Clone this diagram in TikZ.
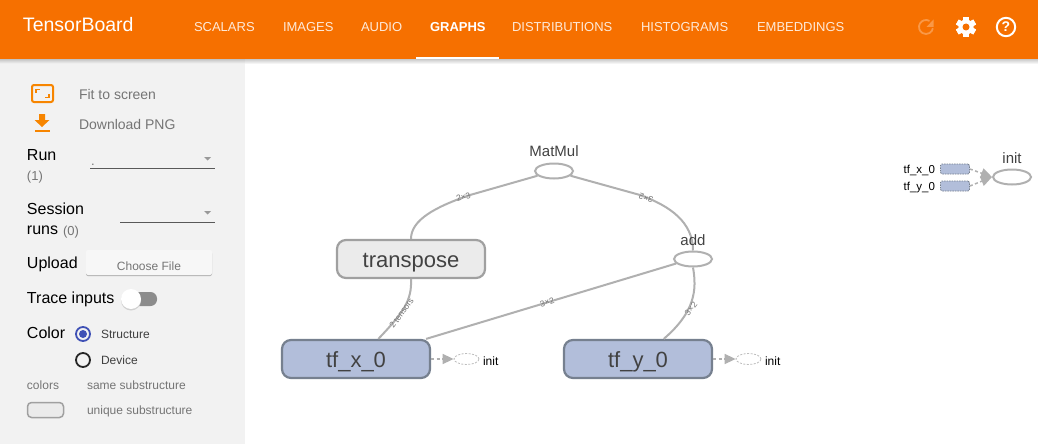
\documentclass[tikz,border=0pt]{standalone}
\usepackage{fontspec}
\setmainfont{Liberation Sans}
\usetikzlibrary{arrows.meta,shapes.geometric,calc}
\definecolor{tborange}{HTML}{F67000}
\definecolor{panel}{HTML}{F2F2F2}
\definecolor{edgegray}{HTML}{B0B0B0}
\definecolor{subtext}{HTML}{757575}
\definecolor{inkdark}{HTML}{424242}
\definecolor{boxblue}{HTML}{B2BEDA}
\definecolor{boxblueline}{HTML}{76808F}
\definecolor{boxgray}{HTML}{EBEBEB}
\definecolor{boxgrayline}{HTML}{A0A0A0}
\definecolor{radioblue}{HTML}{3F51B5}
\newcommand{\px}[1]{\fontsize{#1}{#1}\selectfont}
\tikzset{
  txt/.style={inner sep=0pt,outer sep=0pt,text height=10pt,text depth=0pt},
  tab/.style={txt,anchor=west,text=white!85!tborange,font=\px{13}},
  side/.style={txt,anchor=west,text=black,font=\px{16}},
  sidegray/.style={txt,anchor=west,text=subtext,font=\px{14}},
  small/.style={txt,anchor=west,text=subtext,font=\px{12}},
  opnode/.style={draw=edgegray,line width=2pt,fill=white,ellipse,minimum width=38pt,minimum height=15pt,inner sep=0pt},
  oplabel/.style={txt,anchor=center,text=inkdark,font=\px{15}},
  bigbox/.style={rounded corners=9pt,line width=2.2pt,minimum width=148pt,minimum height=38pt,inner sep=0pt,text=inkdark,font=\px{22},text height=17pt,text depth=0pt},
  bluebox/.style={bigbox,draw=boxblueline,fill=boxblue},
  graybox/.style={bigbox,draw=boxgrayline,fill=boxgray},
  edge/.style={draw=edgegray,line width=2pt},
  edgelabel/.style={inner sep=0pt,text=subtext,font=\px{8.5}},
  auxinit/.style={draw=boxgrayline!70,dash pattern=on 2pt off 1.5pt,line width=0.8pt,ellipse,minimum width=25pt,minimum height=11pt,inner sep=0pt},
  auxedge/.style={draw=edgegray,line width=1.5pt,dash pattern=on 3pt off 2.5pt,-{Triangle[length=11pt,width=10pt,fill=edgegray]}},
  initlabel/.style={txt,anchor=west,text=black,font=\px{12}},
  minibox/.style={draw=boxblueline,fill=boxblue,dash pattern=on 1.5pt off 1pt,line width=0.8pt,rounded corners=1.5pt,minimum width=29pt,minimum height=10pt,inner sep=0pt},
  minilabel/.style={txt,anchor=east,text=black,font=\px{11.5}},
  ddline/.style={draw=black!65,line width=0.9pt},
  ddarrow/.style={fill=black!40,draw=none},
  orangeicon/.style={draw=tborange!85!yellow,line width=2pt}
}
\begin{document}
\begin{tikzpicture}[x=1pt,y=-1pt]
\useasboundingbox (0,0) rectangle (1038,444);
\fill[white] (0,0) rectangle (1038,444);
% sidebar
\fill[panel] (0,59) rectangle (245,444);
% header shadow
\shade[top color=black!38,bottom color=black!0,opacity=0.55] (0,59) rectangle (1038,64);
% header
\fill[tborange] (0,0) rectangle (1038,59);
\fill[white] (416,57) rectangle (499,59);
\node[txt,anchor=west,text=white,font=\px{19.5}] (title) at (23,27) {TensorBoard};
\node[tab] (t1) at (194,27) {SCALARS};
\node[tab] (t2) at (283,27) {IMAGES};
\node[tab] (t3) at (361,27) {AUDIO};
\node[tab,text=white,font=\bfseries\px{13}] (t4) at (430,27) {GRAPHS};
\node[tab] (t5) at (512,27) {DISTRIBUTIONS};
\node[tab] (t6) at (641,27) {HISTOGRAMS};
\node[tab] (t7) at (757,27) {EMBEDDINGS};
% refresh icon
\begin{scope}[shift={(926,27)},x=1pt,y=1pt]
  \draw[tborange!72!white,line width=1.8pt] (60:7) arc[start angle=60,end angle=350,radius=7];
\end{scope}
\fill[tborange!72!white] (933.5,19.5) -- (933.5,27) -- (926.5,27) -- cycle;
% gear icon
\begin{scope}[shift={(966,27)}]
  \foreach \a in {0,60,...,300}
    \fill[white,rotate=\a] (-2.8,-10) rectangle (2.8,10);
  \fill[white] (0,0) circle[radius=7.6pt];
  \fill[tborange] (0,0) circle[radius=3.5pt];
\end{scope}
% help icon
\draw[white,line width=2pt] (1006,27) circle[radius=9.2pt];
\node[txt,anchor=center,text=white,font=\bfseries\px{14}] (help) at (1006,27) {?};
% sidebar tools
\draw[orangeicon,rounded corners=2pt] (32,85) rectangle (53,102);
\draw[tborange!85!yellow,line width=1.5pt] (36,93) -- (36,89.5) -- (40,89.5) (49,94) -- (49,97.5) -- (45,97.5);
\fill[tborange!85!yellow] (39,114) -- (45,114) -- (45,120) -- (49.5,120) -- (42,127) -- (34.5,120) -- (39,120) -- cycle;
\fill[tborange!85!yellow] (34.5,129.5) rectangle (49.5,131.5);
\node[sidegray] (fit) at (79,94) {Fit to screen};
\node[sidegray] (dl) at (79,124) {Download PNG};
\node[side] (run) at (27,155) {Run};
\node[sidegray,font=\px{13}] (runn) at (27,175) {(1)};
\node[txt,anchor=west,text=subtext,font=\px{13}] (dot) at (91,160) {.};
\draw[ddline] (90,168) -- (215,168);
\fill[ddarrow] (204,157) -- (211,157) -- (207.5,160.5) -- cycle;
\node[side] (sess) at (27,209) {Session};
\node[side] (runs) at (27,229) {runs};
\node[sidegray,font=\px{13}] (runsn) at (63,230) {(0)};
\draw[ddline] (120,222) -- (215,222);
\fill[ddarrow] (204,211) -- (211,211) -- (207.5,214.5) -- cycle;
\node[side] (upload) at (27,263) {Upload};
\fill[black!30,rounded corners=2pt] (86,251.5) rectangle (212,276);
\fill[panel!60!white,rounded corners=2pt] (86,250) rectangle (212,275);
\node[txt,anchor=center,text=subtext,font=\px{12}] (choose) at (149,265) {Choose File};
\node[side] (trace) at (27,298) {Trace inputs};
\fill[black!45,rounded corners=6.5pt] (130,292) rectangle (157,306);
\fill[black!18] (131,300.5) circle[radius=10pt];
\fill[white] (131,299) circle[radius=10pt];
\node[side] (color) at (27,333) {Color};
\draw[radioblue,line width=1.8pt] (83,334) circle[radius=7pt];
\fill[radioblue] (83,334) circle[radius=4pt];
\node[small,text=black!75] (struct) at (101,333) {Structure};
\draw[black!85,line width=1.8pt] (83,360) circle[radius=7pt];
\node[small,text=black!75] (dev) at (101,359) {Device};
\node[small] (colors) at (27,384.5) {colors};
\node[small] (same) at (87,384.5) {same substructure};
\draw[draw=boxgrayline,fill=boxgray,line width=1.5pt,rounded corners=4pt] (27.5,402.5) rectangle (63.5,417.5);
\node[small] (uniq) at (87,409.5) {unique substructure};
% graph nodes
\node[opnode] (matmul) at (554,171) {};
\node[oplabel] (matmull) at (554,151) {MatMul};
\node[opnode] (add) at (693,259) {};
\node[graybox] (transpose) at (411,259) {transpose};
\node[bluebox] (tfx) at (356,359) {tf\_x\_0};
\node[bluebox] (tfy) at (638,359) {tf\_y\_0};
\node[auxinit] (initx) at (466.5,359) {};
\node[auxinit] (inity) at (748.5,359) {};
\node[initlabel] (initxl) at (483,360) {init};
\node[initlabel] (inityl) at (765,360) {init};
% graph edges
\coordinate (bendA) at (470,195);
\coordinate (bendB) at (640,195);
\draw[edge] (matmul.196) -- (bendA) .. controls (435,207) and (411,220) .. (transpose.north);
\draw[edge] (matmul.344) -- (bendB) .. controls (670,206) and (693,222) .. (add.north);
\draw[edge] (add.195) -- (tfx.16);
\draw[edge] (add.south) .. controls (697,290) and (695,312) .. (tfy.38);
\draw[edge] (transpose.south) .. controls (412,300) and (404,312) .. (tfx.42);
\node[oplabel] (addl) at (693,240) {add};
\node[edgelabel,rotate=17] (e1) at (463.5,197) {2×3};
\node[edgelabel,rotate=160] (e2) at (646,198) {3×2};
\node[edgelabel,rotate=18] (e3) at (547,302) {3×2};
\node[edgelabel,rotate=51] (e4) at (691,309) {3×2};
\node[edgelabel,rotate=54] (e5) at (401.5,313) {2 tensors};
\draw[auxedge] (tfx.east) -- (initx.west);
\draw[auxedge] (tfy.east) -- (inity.west);
% mini map
\node[minibox] (mx) at (955,169) {};
\node[minibox] (my) at (955,186) {};
\node[opnode] (minit) at (1012,177) {};
\node[oplabel] (minitl) at (1012,158) {init};
\node[minilabel] (mxl) at (935,168.5) {tf\_x\_0};
\node[minilabel] (myl) at (935,185.5) {tf\_y\_0};
\draw[auxedge] (mx.east) -- (minit.west);
\draw[auxedge] (my.east) -- (minit.west);
\end{tikzpicture}
\end{document}
